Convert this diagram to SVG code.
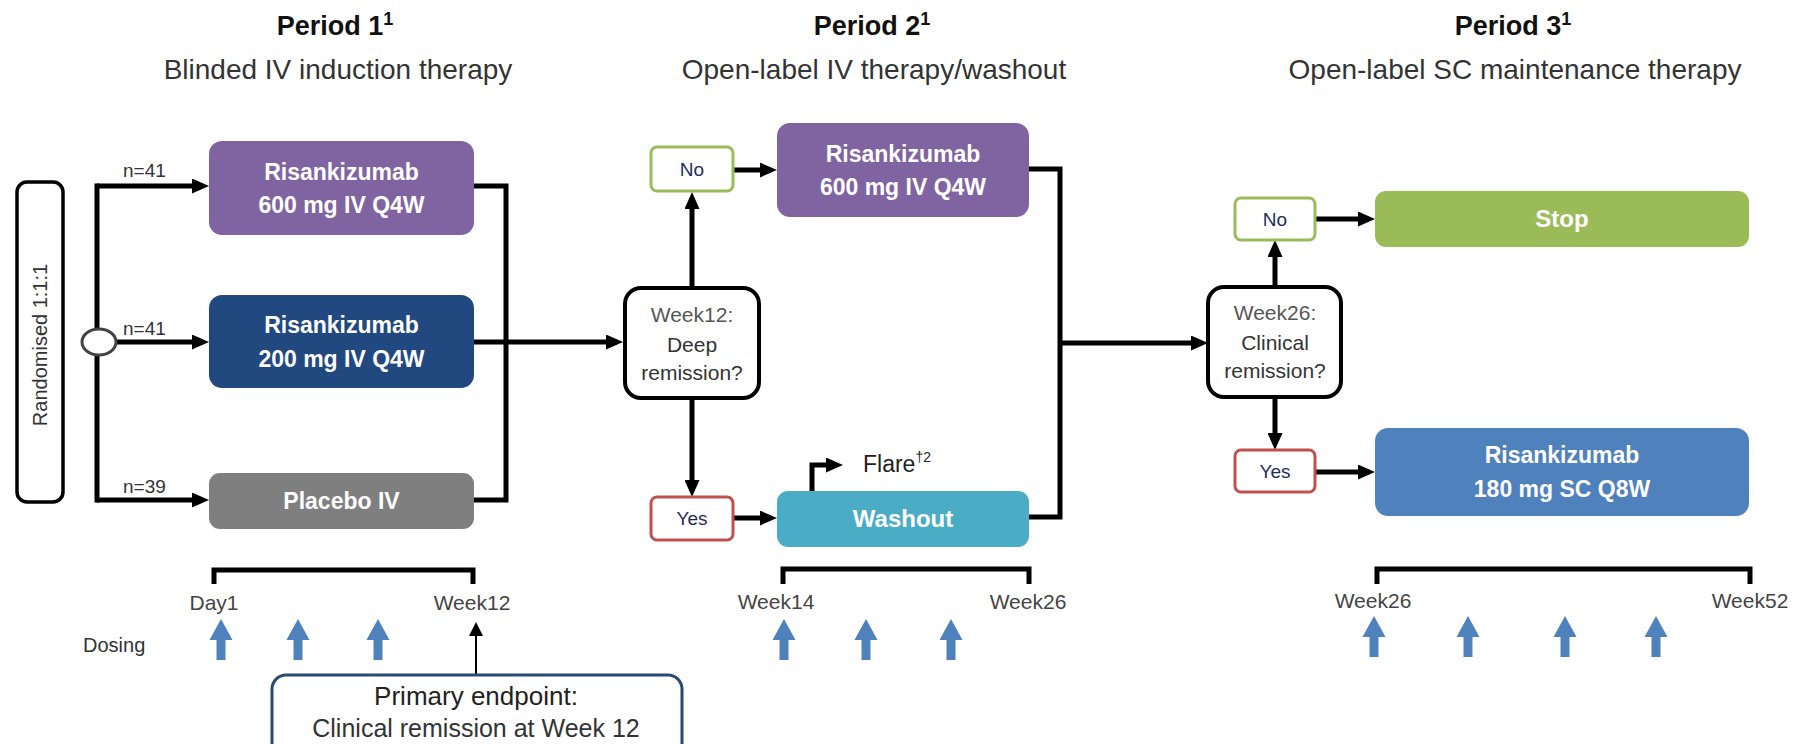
<svg xmlns="http://www.w3.org/2000/svg" xmlns:xlink="http://www.w3.org/1999/xlink" width="1795" height="744" viewBox="0 0 1795 744">
<style>
text{font-family:"Liberation Sans",Arial,sans-serif}
.title{font-size:27px;font-weight:bold;fill:#111;text-anchor:middle}
.sub{font-size:28px;fill:#333;text-anchor:middle}
.bx{font-size:23px;font-weight:bold;fill:#fff;text-anchor:middle}
.n{font-size:19px;fill:#333}
.dec{font-size:21px;fill:#333;text-anchor:middle}
.decw{font-size:21px;fill:#555;text-anchor:middle}
.yn{font-size:19px;fill:#1f2d5a;text-anchor:middle}
.lbl{font-size:21px;fill:#444;text-anchor:middle}
.conn{fill:none;stroke:#000;stroke-width:5}
.br{fill:none;stroke:#000;stroke-width:5}
.decbox{fill:#fff;stroke:#000;stroke-width:4}
.nobox{fill:#fff;stroke:#9bbb59;stroke-width:3}
.yesbox{fill:#fff;stroke:#c0504d;stroke-width:3}
.dose{fill:#4f81bd}
</style>
<defs>
<marker id="ah" markerUnits="userSpaceOnUse" viewBox="0 0 17 15" markerWidth="17" markerHeight="15" refX="11" refY="7.5" orient="auto">
<path d="M0,0 L17,7.5 L0,15 z" fill="#000"/>
</marker>
<marker id="ahs" markerUnits="userSpaceOnUse" viewBox="0 0 14 14" markerWidth="14" markerHeight="14" refX="10" refY="7" orient="auto">
<path d="M0,0 L14,7 L0,14 z" fill="#000"/>
</marker>
<path id="dosearrow" d="M0,0 L11.5,21 L4.5,21 L4.5,41 L-4.5,41 L-4.5,21 L-11.5,21 Z"/>
</defs>

<g id="titles">
<text class="title" x="335" y="35">Period 1<tspan font-size="18" dy="-10">1</tspan></text>
<text class="sub" x="338" y="79">Blinded IV induction therapy</text>
<text class="title" x="872" y="35">Period 2<tspan font-size="18" dy="-10">1</tspan></text>
<text class="sub" x="874" y="79">Open-label IV therapy/washout</text>
<text class="title" x="1513" y="35">Period 3<tspan font-size="18" dy="-10">1</tspan></text>
<text class="sub" x="1515" y="79">Open-label SC maintenance therapy</text>
</g>

<g id="connectors">
<path class="conn" d="M97,186 V500" stroke-linecap="square"/>
<path class="conn" d="M97,186 H203" marker-end="url(#ah)"/>
<path class="conn" d="M97,342 H203" marker-end="url(#ah)"/>
<path class="conn" d="M97,500 H203" marker-end="url(#ah)"/>
<path class="conn" d="M474,186 H506 V500 H474"/>
<path class="conn" d="M474,342 H617" marker-end="url(#ah)"/>
<path class="conn" d="M692,288 V198" marker-end="url(#ah)"/>
<path class="conn" d="M733,170 H771" marker-end="url(#ah)"/>
<path class="conn" d="M692,398 V491" marker-end="url(#ah)"/>
<path class="conn" d="M733,518 H771" marker-end="url(#ah)"/>
<path class="conn" d="M812,491 V465 H837" stroke-width="4" marker-end="url(#ah)"/>
<path class="conn" d="M1029,169 H1060 V517 H1029"/>
<path class="conn" d="M1060,343 H1202" marker-end="url(#ah)"/>
<path class="conn" d="M1275,287 V246" marker-end="url(#ah)"/>
<path class="conn" d="M1315,219 H1369" marker-end="url(#ah)"/>
<path class="conn" d="M1275,397 V444" marker-end="url(#ah)"/>
<path class="conn" d="M1315,472 H1369" marker-end="url(#ah)"/>
<path d="M476,675 V626" fill="none" stroke="#000" stroke-width="2" marker-end="url(#ahs)"/>
</g>

<g id="randomised">
<rect x="17" y="182" width="46" height="320" rx="10" fill="#fff" stroke="#000" stroke-width="3.5"/>
<text transform="translate(47,345) rotate(-90)" x="0" y="0" text-anchor="middle" font-size="20" fill="#333">Randomised 1:1:1</text>
</g>

<g id="split">
<ellipse cx="99" cy="342" rx="17" ry="13" fill="#fff" stroke="#444" stroke-width="3"/>
</g>

<g id="n-labels">
<text class="n" x="123" y="177">n=41</text>
<text class="n" x="123" y="335">n=41</text>
<text class="n" x="123" y="493">n=39</text>
</g>

<g id="risa600-p1">
<rect x="209" y="141" width="265" height="94" rx="13" fill="#8064a2"/>
<text class="bx" x="341.5" y="180">Risankizumab</text>
<text class="bx" x="341.5" y="213">600 mg IV Q4W</text>
</g>

<g id="risa200-p1">
<rect x="209" y="295" width="265" height="93" rx="13" fill="#21497f"/>
<text class="bx" x="341.5" y="333">Risankizumab</text>
<text class="bx" x="341.5" y="367">200 mg IV Q4W</text>
</g>

<g id="placebo">
<rect x="209" y="473" width="265" height="56" rx="11" fill="#7f7f7f"/>
<text class="bx" x="341.5" y="509">Placebo IV</text>
</g>

<g id="decision-week12">
<rect class="decbox" x="625" y="288" width="134" height="110" rx="16"/>
<text class="decw" x="692" y="322">Week12:</text>
<text class="dec" x="692" y="352">Deep</text>
<text class="dec" x="692" y="380">remission?</text>
</g>

<g id="no-p2">
<rect class="nobox" x="651" y="147" width="82" height="44" rx="6"/>
<text class="yn" x="692" y="176">No</text>
</g>

<g id="yes-p2">
<rect class="yesbox" x="651" y="497" width="82" height="43" rx="6"/>
<text class="yn" x="692" y="525">Yes</text>
</g>

<g id="risa600-p2">
<rect x="777" y="123" width="252" height="94" rx="13" fill="#8064a2"/>
<text class="bx" x="903" y="162">Risankizumab</text>
<text class="bx" x="903" y="195">600 mg IV Q4W</text>
</g>

<g id="washout">
<rect x="777" y="491" width="252" height="56" rx="11" fill="#4bacc6"/>
<text class="bx" x="903" y="527" style="font-size:24px">Washout</text>
</g>

<g id="flare">
<text x="863" y="472" font-size="23" fill="#222">Flare<tspan font-size="14" dy="-10">†2</tspan></text>
</g>

<g id="decision-week26">
<rect class="decbox" x="1208" y="287" width="133" height="110" rx="16"/>
<text class="decw" x="1275" y="320">Week26:</text>
<text class="dec" x="1275" y="350">Clinical</text>
<text class="dec" x="1275" y="378">remission?</text>
</g>

<g id="no-p3">
<rect class="nobox" x="1235" y="198" width="80" height="42" rx="6"/>
<text class="yn" x="1275" y="226">No</text>
</g>

<g id="yes-p3">
<rect class="yesbox" x="1235" y="450" width="80" height="42" rx="6"/>
<text class="yn" x="1275" y="478">Yes</text>
</g>

<g id="stop">
<rect x="1375" y="191" width="374" height="56" rx="11" fill="#9bbb59"/>
<text class="bx" x="1562" y="227" style="font-size:24px">Stop</text>
</g>

<g id="risa180-p3">
<rect x="1375" y="428" width="374" height="88" rx="13" fill="#4f81bd"/>
<text class="bx" x="1562" y="463">Risankizumab</text>
<text class="bx" x="1562" y="497">180 mg SC Q8W</text>
</g>

<g id="timeline">
<path class="br" d="M214,584 V570 H473 V584"/>
<path class="br" d="M783,584 V569 H1029 V584"/>
<path class="br" d="M1377,584 V569 H1750 V584"/>
<text class="lbl" x="214" y="610">Day1</text>
<text class="lbl" x="472" y="610">Week12</text>
<text class="lbl" x="776" y="609">Week14</text>
<text class="lbl" x="1028" y="609">Week26</text>
<text class="lbl" x="1373" y="608">Week26</text>
<text class="lbl" x="1750" y="608">Week52</text>
<text x="83" y="652" font-size="20" fill="#333">Dosing</text>
</g>

<g id="dosing">
<use xlink:href="#dosearrow" class="dose" x="221" y="619"/>
<use xlink:href="#dosearrow" class="dose" x="298" y="619"/>
<use xlink:href="#dosearrow" class="dose" x="378" y="619"/>
<use xlink:href="#dosearrow" class="dose" x="784" y="619"/>
<use xlink:href="#dosearrow" class="dose" x="866" y="619"/>
<use xlink:href="#dosearrow" class="dose" x="951" y="619"/>
<use xlink:href="#dosearrow" class="dose" x="1374" y="616"/>
<use xlink:href="#dosearrow" class="dose" x="1468" y="616"/>
<use xlink:href="#dosearrow" class="dose" x="1565" y="616"/>
<use xlink:href="#dosearrow" class="dose" x="1656" y="616"/>
</g>

<g id="primary-endpoint">
<rect x="272" y="675" width="410" height="95" rx="14" fill="#fff" stroke="#2b4a6f" stroke-width="3"/>
<text x="476" y="705" font-size="26" fill="#222" text-anchor="middle">Primary endpoint:</text>
<text x="476" y="737" font-size="25" fill="#333" text-anchor="middle">Clinical remission at Week 12</text>
</g>
</svg>
